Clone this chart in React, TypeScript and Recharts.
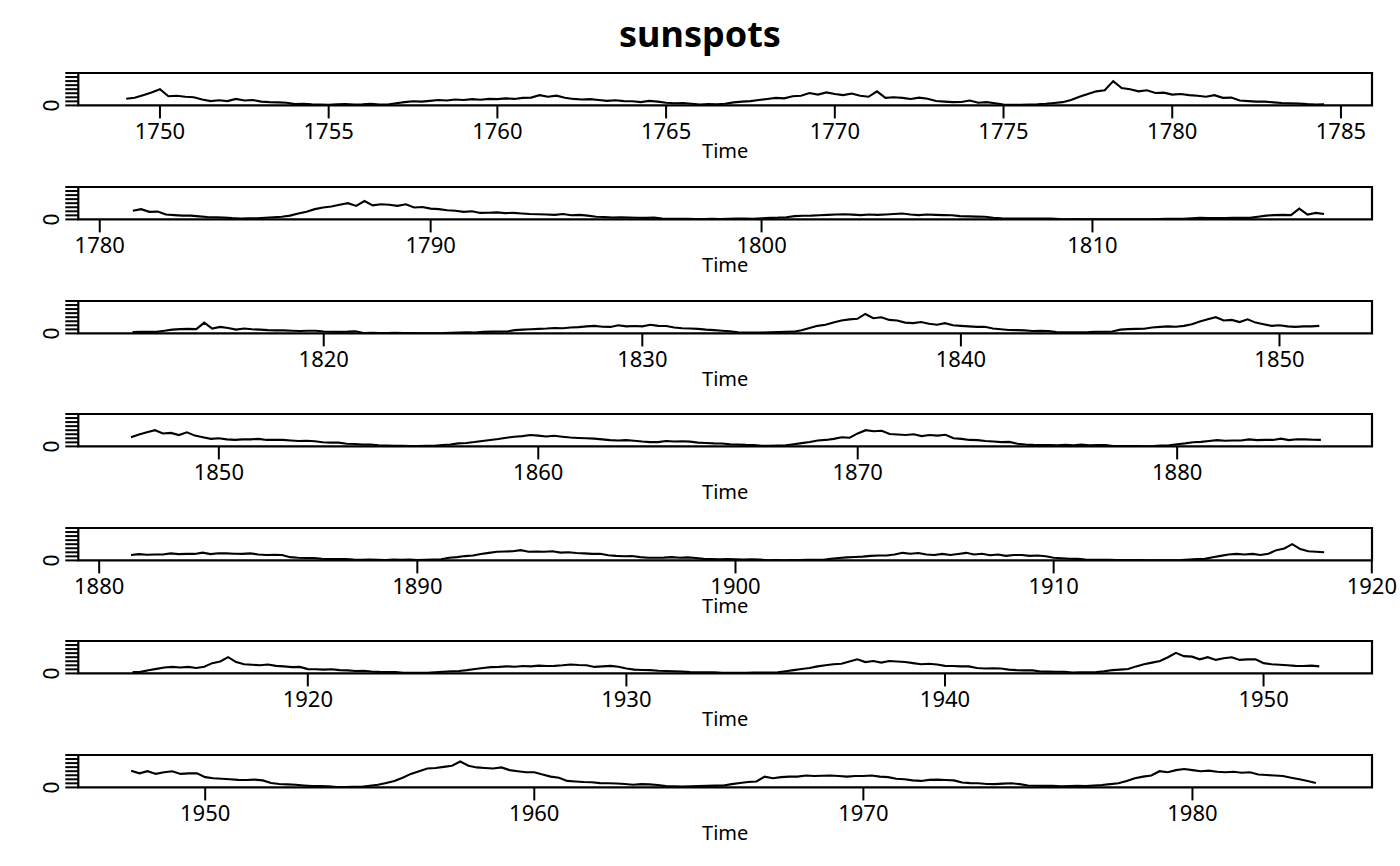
import { LineChart, Line, XAxis, YAxis, ReferenceArea } from "recharts";

// quarterly sunspot numbers, starting 1749 Q1 (one row = 5 years)
const START_YEAR = 1749;
const PER_YEAR = 4;
const sunspots = [
  62, 70, 95, 120, 150, 85, 90, 80, 75, 55, 40, 48, 40, 60, 45, 50, 35, 30, 28, 25,
  12, 14, 10, 8, 6, 10, 12, 8, 10, 14, 8, 9, 20, 30, 38, 35, 42, 50, 45, 55,
  50, 58, 52, 60, 58, 65, 60, 70, 72, 95, 80, 90, 70, 60, 55, 58, 50, 42, 48, 40,
  38, 30, 42, 35, 25, 20, 22, 15, 8, 12, 10, 16, 28, 35, 40, 50, 60, 70, 65, 85,
  90, 115, 100, 120, 105, 95, 110, 90, 80, 130, 70, 75, 70, 60, 72, 62, 40, 35, 30, 32,
  45, 25, 30, 20, 8, 6, 5, 9, 10, 15, 22, 30, 50, 80, 105, 130, 140, 225, 160, 150,
  130, 140, 115, 118, 100, 105, 95, 90, 80, 95, 70, 72, 45, 40, 35, 35, 28, 22, 20, 18,
  12, 9, 10, 10, 15, 20, 25, 35, 55, 70, 95, 110, 120, 135, 150, 125, 170, 130, 140, 135,
  125, 140, 110, 115, 100, 95, 85, 80, 70, 75, 60, 62, 65, 58, 60, 55, 50, 48, 45, 42,
  50, 38, 42, 35, 25, 22, 18, 20, 18, 15, 14, 17, 8, 6, 5, 6, 3, 4, 5, 4,
  6, 7, 8, 6, 10, 14, 16, 20, 30, 34, 35, 38, 42, 45, 48, 44, 40, 45, 42, 46,
  50, 55, 45, 40, 45, 42, 40, 38, 30, 28, 26, 24, 15, 10, 8, 7, 8, 9, 7, 8,
  3, 2, 3, 2, 0, 0, 0, 0, 1, 2, 1, 2, 4, 6, 5, 5, 10, 14, 12, 13,
  12, 15, 14, 14, 25, 35, 40, 42, 40, 100, 45, 60, 50, 35, 45, 38, 35, 30, 28, 28,
  25, 22, 24, 25, 18, 15, 14, 16, 20, 4, 5, 4, 4, 5, 3, 4, 1, 1, 2, 3,
  6, 8, 10, 9, 14, 16, 18, 18, 30, 35, 38, 42, 45, 50, 48, 55, 58, 65, 70, 62,
  60, 75, 65, 68, 65, 80, 70, 68, 55, 48, 45, 42, 35, 30, 25, 20, 10, 8, 8, 7,
  10, 12, 15, 16, 30, 50, 70, 80, 100, 120, 130, 135, 180, 140, 150, 125, 120, 100, 95, 105,
  90, 80, 95, 75, 70, 65, 60, 62, 45, 38, 32, 30, 28, 22, 25, 22, 12, 10, 10, 11,
  12, 15, 15, 18, 35, 40, 42, 43, 55, 60, 65, 62, 70, 85, 110, 130, 150, 120, 125, 105,
  130, 100, 85, 70, 75, 65, 60, 65, 65, 70, 60, 62, 60, 55, 50, 52, 48, 38, 35, 35,
  25, 22, 18, 17, 10, 7, 5, 5, 4, 3, 5, 5, 12, 18, 28, 32, 40, 50, 60, 68,
  80, 90, 95, 105, 100, 92, 98, 90, 82, 78, 75, 72, 65, 58, 55, 58, 52, 45, 40, 40,
  50, 45, 48, 44, 35, 32, 28, 27, 20, 18, 14, 12, 6, 5, 8, 10, 20, 30, 40, 55,
  60, 70, 85, 80, 120, 150, 140, 145, 115, 110, 105, 112, 95, 105, 100, 108, 75, 70, 60, 58,
  50, 45, 40, 42, 25, 18, 14, 12, 12, 10, 14, 10, 16, 10, 12, 12, 3, 4, 3, 3,
  2, 4, 8, 10, 20, 28, 38, 42, 50, 58, 52, 55, 55, 65, 58, 60, 60, 72, 58, 66,
  65, 62, 60, 65, 55, 50, 52, 50, 30, 25, 22, 22, 15, 12, 13, 12, 8, 6, 7, 6,
  4, 8, 6, 7, 4, 6, 8, 10, 25, 30, 40, 45, 60, 70, 80, 82, 85, 95, 80, 82,
  80, 85, 72, 76, 68, 65, 60, 62, 48, 42, 38, 40, 30, 25, 24, 26, 30, 25, 28, 22,
  14, 12, 10, 12, 10, 9, 11, 8, 2, 3, 2, 4, 4, 5, 6, 5, 15, 22, 28, 32,
  35, 42, 45, 46, 55, 70, 62, 68, 55, 50, 60, 50, 60, 70, 55, 62, 48, 55, 42, 50,
  50, 42, 45, 38, 25, 20, 15, 14, 7, 6, 5, 5, 3, 4, 3, 4, 2, 1, 1, 2,
  4, 8, 12, 14, 30, 42, 55, 60, 55, 60, 50, 62, 95, 110, 150, 105, 85, 80, 75, 82,
  70, 65, 58, 60, 40, 38, 35, 38, 30, 28, 22, 24, 18, 14, 12, 13, 6, 5, 6, 6,
  10, 15, 20, 22, 30, 40, 50, 58, 60, 65, 62, 68, 65, 72, 68, 70, 75, 82, 78, 76,
  60, 65, 70, 62, 45, 35, 32, 30, 25, 22, 20, 18, 12, 11, 10, 11, 6, 5, 6, 5,
  7, 9, 8, 10, 20, 30, 40, 50, 65, 75, 85, 90, 110, 130, 105, 115, 100, 115, 110, 105,
  95, 85, 90, 82, 70, 68, 65, 65, 50, 45, 48, 45, 35, 30, 28, 28, 18, 16, 15, 15,
  8, 10, 10, 12, 20, 30, 35, 40, 65, 85, 100, 115, 150, 190, 160, 155, 130, 150, 125, 140,
  150, 125, 130, 130, 95, 85, 80, 75, 70, 68, 72, 65, 40, 32, 28, 25, 18, 12, 12, 10,
  4, 3, 5, 6, 15, 25, 40, 60, 90, 125, 150, 175, 180, 190, 200, 240, 200, 185, 180, 175,
  185, 160, 150, 140, 140, 120, 100, 90, 60, 55, 50, 48, 40, 38, 36, 32, 25, 30, 28, 22,
  12, 10, 9, 10, 12, 14, 16, 18, 30, 40, 50, 55, 100, 85, 95, 100, 100, 110, 105, 108,
  110, 105, 100, 105, 105, 110, 100, 95, 80, 75, 65, 60, 70, 72, 68, 65, 45, 40, 38, 32,
  30, 35, 38, 30, 18, 15, 14, 14, 10, 12, 14, 12, 18, 22, 30, 38, 60, 85, 100, 110,
  150, 140, 160, 170, 160, 150, 155, 145, 140, 145, 135, 140, 120, 115, 110, 105, 90, 75, 60, 40,
];

// the seven overlapping time windows (years) and their tick labels
const panelFrom = [1749.0, 1780.8, 1813.8, 1847.1, 1880.85, 1914.3, 1947.6];
const panelTo = [1784.5, 1817.0, 1851.4, 1884.6, 1918.5, 1951.9, 1984.0];
const panelTicks = [
  [1750, 1755, 1760, 1765, 1770, 1775, 1780, 1785],
  [1780, 1790, 1800, 1810],
  [1820, 1830, 1840, 1850],
  [1850, 1860, 1870, 1880],
  [1880, 1890, 1900, 1910, 1920],
  [1920, 1930, 1940, 1950],
  [1950, 1960, 1970, 1980],
];
const yTicks = [0, 37.5, 75, 112.5, 150, 187.5, 225, 262.5, 300];

const series = sunspots.map((v, i) => ({ t: START_YEAR + i / PER_YEAR, v }));

function YTick(props: any) {
  const { x, y, payload } = props;
  if (payload.value !== 0) return <g />;
  return (
    <text
      x={x}
      y={y}
      transform={`rotate(-90 ${x} ${y})`}
      textAnchor="middle"
      fontSize={21}
      fill="#000"
    >
      0
    </text>
  );
}

function Panel({ idx }: { idx: number }) {
  const from = panelFrom[idx];
  const to = panelTo[idx];
  const pad = (to - from) * 0.04;
  const lo = from - pad;
  const hi = to + pad;
  const data = series.filter((d) => d.t >= from && d.t <= to);

  return (
    <div style={{ position: "absolute", left: 0, top: 73.3 + idx * 113.6 - 5 }}>
      <LineChart
        width={1400}
        height={100}
        data={data}
        margin={{ top: 5, right: 28, bottom: 6.6, left: 0 }}
      >
        <XAxis
          type="number"
          dataKey="t"
          domain={[lo, hi]}
          allowDataOverflow
          ticks={panelTicks[idx]}
          interval={0}
          height={56}
          axisLine={false}
          tickSize={13}
          tickMargin={5}
          tickLine={{ stroke: "#000", strokeWidth: 2 }}
          tick={{ fill: "#000", fontSize: 22 }}
          label={{ value: "Time", position: "insideBottom", offset: 3, fill: "#000", fontSize: 20 }}
        />
        <YAxis
          type="number"
          domain={[0, 300]}
          allowDataOverflow
          ticks={yTicks}
          interval={0}
          width={78.3}
          axisLine={false}
          tickSize={13}
          tickMargin={6}
          tickLine={{ stroke: "#000", strokeWidth: 2 }}
          tick={<YTick />}
        />
        <ReferenceArea
          x1={lo}
          x2={hi}
          y1={0}
          y2={300}
          fill="none"
          stroke="#000"
          strokeWidth={2.2}
          fillOpacity={0}
        />
        <Line
          type="linear"
          dataKey="v"
          stroke="#000"
          strokeWidth={2.1}
          dot={false}
          isAnimationActive={false}
        />
      </LineChart>
    </div>
  );
}

export default function App() {
  return (
    <div
      style={{
        position: "absolute",
        left: 0,
        top: 0,
        width: 1400,
        height: 866,
        background: "#fff",
        fontFamily: "'Noto Sans', sans-serif",
      }}
    >
      <svg width={1400} height={60} style={{ position: "absolute", left: 0, top: 0 }}>
        <text x={700} y={46.7} textAnchor="middle" fontSize={36} fontWeight="bold" fill="#000">
          sunspots
        </text>
      </svg>
      {panelFrom.map((_, i) => (
        <Panel key={i} idx={i} />
      ))}
    </div>
  );
}
